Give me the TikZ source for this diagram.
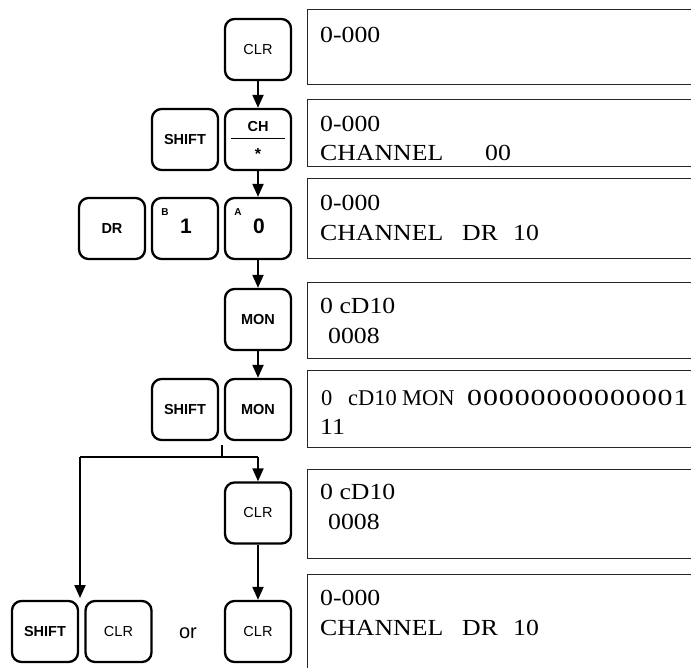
\documentclass[tikz,border=0pt]{standalone}
\usepackage{fontspec}
\setsansfont{Liberation Sans}
\newfontfamily\lcd[FakeStretch=1.12]{Liberation Serif}
\newfontfamily\lcdn{Liberation Serif}
\newfontfamily\lcdw[FakeStretch=1.3,LetterSpace=4]{Liberation Serif}
\usetikzlibrary{arrows.meta}
\tikzset{
  key/.style={draw, line width=2.3pt, rounded corners=9.5pt, minimum width=66pt, minimum height=61pt, inner sep=0pt, font=\sffamily\fontsize{14.5}{16}\selectfont},
  bkey/.style={key, font=\sffamily\bfseries\fontsize{14.5}{16}\selectfont},
  disp/.style={draw=black!85, line width=1pt, minimum width=420pt, anchor=north west, inner sep=0pt},
  lcdtxt/.style={anchor=base west, inner sep=0pt, font=\lcd\fontsize{23}{29}\selectfont},
  arr/.style={line width=2pt, -{Triangle[length=13pt,width=11pt]}},
  ln/.style={line width=2pt},
  small/.style={inner sep=0pt, font=\sffamily\bfseries\fontsize{10}{10}\selectfont},
  big/.style={inner sep=0pt, font=\sffamily\bfseries\fontsize{21}{21}\selectfont}
}
\begin{document}
\begin{tikzpicture}[x=1pt,y=-1pt]
\useasboundingbox (0,0) rectangle (691,667);
\clip (0,0) rectangle (691,667);
% keys
\node[key]  (clr1) at (258,49.5) {CLR};
\node[key]  (ch)   at (258,139.5) {};
\node[bkey] (sh1)  at (185,139.5) {SHIFT};
\node[bkey] (dr)   at (112,228.5) {DR};
\node[key]  (b1)   at (185,228.5) {};
\node[key]  (a0)   at (258,228.5) {};
\node[bkey] (mon1) at (258,319.5) {MON};
\node[bkey] (sh2)  at (185,409.5) {SHIFT};
\node[bkey] (mon2) at (258,409.5) {MON};
\node[key]  (clr2) at (258,513) {CLR};
\node[key]  (clr3) at (258,631.5) {CLR};
\node[bkey] (sh3)  at (45,631.5) {SHIFT};
\node[key]  (clr4) at (118.5,631.5) {CLR};
\node[inner sep=0pt, font=\sffamily\fontsize{20}{20}\selectfont] (or) at (188,633) {or};
% key contents
\node[inner sep=0pt, font=\sffamily\bfseries\fontsize{14.5}{16}\selectfont] (chl) at (258,126.5) {CH};
\draw[line width=1.6pt] (231,138.5) -- (285,138.5);
\node[inner sep=0pt, font=\sffamily\bfseries\fontsize{16}{16}\selectfont] (star) at (258,154) {*};
\node[small] (bl) at (165,212.5) {B};
\node[big]   (one) at (186,226.5) {1};
\node[small] (al) at (238,212.5) {A};
\node[big]   (zero) at (259,226.5) {0};
% connectors
\draw[arr] (clr1) -- (ch);
\draw[arr] (ch) -- (a0);
\draw[arr] (a0) -- (mon1);
\draw[arr] (mon1) -- (mon2);
\coordinate (br0) at (222,445);
\coordinate (br1) at (222,457);
\coordinate (brL) at (80,457);
\coordinate (brR) at (258,457);
\coordinate (tipL) at (80,598);
\draw[ln] (br0) -- (br1);
\draw[ln] (brL) -- (brR);
\draw[arr] (brR) -- (clr2);
\draw[arr] (brL) -- (tipL);
\draw[arr] (clr2) -- (clr3);
% displays
\node[disp, minimum height=75pt] (d1) at (307,9) {};
\node[disp, minimum height=67pt] (d2) at (307,99) {};
\node[disp, minimum height=80pt] (d3) at (307,178) {};
\node[disp, minimum height=76pt] (d4) at (307,282) {};
\node[disp, minimum height=77pt] (d5) at (307,370) {};
\node[disp, minimum height=89pt] (d6) at (307,469) {};
\node[disp, minimum height=120pt] (d7) at (307,574) {};
% display texts
\node[lcdtxt] (t1a) at (320,42) {0-000};
\node[lcdtxt] (t2a) at (320,131) {0-000};
\node[lcdtxt] (t2b) at (320,160) {CHANNEL};
\node[lcdtxt] (t2c) at (485,160) {00};
\node[lcdtxt] (t3a) at (320,210) {0-000};
\node[lcdtxt] (t3b) at (320,240) {CHANNEL};
\node[lcdtxt] (t3c) at (462,240) {DR};
\node[lcdtxt] (t3d) at (513,240) {10};
\node[lcdtxt] (t4a) at (320,313) {0 cD10};
\node[lcdtxt] (t4b) at (328,343) {0008};
\node[lcdtxt, font=\lcdn\fontsize{22.5}{29}\selectfont] (t5a) at (321,405) {0};
\node[lcdtxt, font=\lcdn\fontsize{22.5}{29}\selectfont] (t5b) at (348,405) {cD10};
\node[lcdtxt, font=\lcdn\fontsize{22.5}{29}\selectfont] (t5c) at (402,405) {MON};
\node[lcdtxt, font=\lcdw\fontsize{23}{29}\selectfont] (t5d) at (467,405) {00000000000001};
\node[lcdtxt] (t5e) at (320,434) {11};
\node[lcdtxt] (t6a) at (320,499) {0 cD10};
\node[lcdtxt] (t6b) at (328,529) {0008};
\node[lcdtxt] (t7a) at (320,605) {0-000};
\node[lcdtxt] (t7b) at (320,635) {CHANNEL};
\node[lcdtxt] (t7c) at (462,635) {DR};
\node[lcdtxt] (t7d) at (513,635) {10};
\end{tikzpicture}
\end{document}
